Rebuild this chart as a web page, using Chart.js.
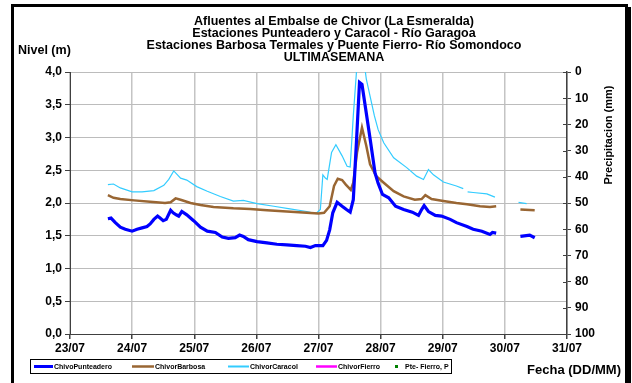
<!DOCTYPE html>
<html>
<head>
<meta charset="utf-8">
<script src="https://cdn.jsdelivr.net/npm/chart.js@4.4.1/dist/chart.umd.min.js"></script>
<style>
  html, body { margin: 0; padding: 0; background: #fff; }
  #wrap { position: relative; width: 632px; height: 383px; }
</style>
</head>
<body>
<div id="wrap"><canvas id="graph" width="632" height="383"></canvas></div>
<script>
const azul =     'rgb(0, 0, 255)'
const cafe =     'rgb(153, 102, 51)'
const celeste =  'rgb(51, 204, 255)'
const magenta =  'rgb(255, 0, 255)'
const verde =    'rgb(0, 128, 0)'
const fuente =   '"Liberation Sans", Arial, sans-serif'

// eje x: dias desde 23/07 00:00
const fechas = ['23/07', '24/07', '25/07', '26/07', '27/07', '28/07', '29/07', '30/07', '31/07']

const titulo = [
    'Afluentes al Embalse de Chivor (La Esmeralda)',
    'Estaciones Punteadero y Caracol - Río Garagoa',
    'Estaciones Barbosa Termales y Puente Fierro- Río Somondoco',
    'ULTIMASEMANA'
]

// ChivoPunteadero (null = sin dato)
const diasPunt = [0.61,0.66,0.73,0.81,0.89,1.00,1.08,1.16,1.24,1.29,1.35,1.41,1.45,1.50,1.55,1.62,1.66,1.71,1.75,1.80,
    1.88,1.99,2.10,2.21,2.34,2.45,2.55,2.66,2.73,2.79,2.87,3.01,3.17,3.33,3.49,3.65,3.79,3.87,3.95,4.07,
    4.13,4.18,4.23,4.30,4.38,4.45,4.51,4.56,4.61,4.66,4.70,4.76,4.84,4.91,4.96,5.03,5.13,5.24,5.37,5.51,
    5.61,5.66,5.70,5.77,5.88,5.98,6.12,6.22,6.39,6.49,6.63,6.76,6.80,6.86,7.05,7.25,7.40,7.48]
const nivelPunt = [1.76,1.77,1.70,1.63,1.60,1.57,1.60,1.62,1.64,1.68,1.75,1.80,1.77,1.73,1.75,1.89,1.85,1.82,1.80,1.87,
    1.82,1.73,1.63,1.57,1.55,1.48,1.46,1.47,1.51,1.49,1.44,1.41,1.39,1.37,1.36,1.35,1.34,1.32,1.35,1.35,
    1.43,1.59,1.85,2.01,1.95,1.90,1.86,2.05,2.92,3.84,3.81,3.43,2.92,2.46,2.30,2.13,2.08,1.95,1.90,1.86,
    1.81,1.90,1.96,1.87,1.81,1.80,1.75,1.70,1.64,1.60,1.57,1.52,1.55,1.54,null,1.49,1.51,1.47]

// ChivorBarbosa
const diasBarb = [0.61,0.70,0.81,1.03,1.29,1.53,1.62,1.70,1.78,1.94,2.10,2.31,2.63,2.90,3.17,3.49,3.81,4.00,4.09,4.18,
    4.25,4.31,4.38,4.44,4.52,4.56,4.62,4.70,4.77,4.83,4.93,5.05,5.21,5.37,5.55,5.66,5.72,5.82,6.01,6.22,
    6.39,6.60,6.76,6.86,7.05,7.25,7.48]
const nivelBarb = [2.12,2.08,2.06,2.04,2.02,2.00,2.01,2.07,2.05,2.00,1.97,1.94,1.92,1.91,1.89,1.87,1.85,1.84,1.85,1.95,
    2.26,2.37,2.35,2.28,2.20,2.31,2.77,3.15,2.87,2.59,2.41,2.31,2.18,2.10,2.05,2.06,2.12,2.06,2.03,2.00,
    1.98,1.95,1.94,1.95,null,1.90,1.89]

// ChivorCaracol
const diasCar = [0.61,0.70,0.81,1.00,1.16,1.35,1.51,1.59,1.67,1.78,1.88,2.04,2.21,2.42,2.63,2.79,3.01,3.28,3.54,3.81,
    3.96,4.03,4.07,4.11,4.14,4.21,4.28,4.38,4.46,4.51,4.56,4.63,4.67,4.72,4.77,4.83,4.90,4.96,5.05,5.21,
    5.42,5.58,5.69,5.77,5.85,6.01,6.22,6.33,6.36,6.40,6.49,6.71,6.84,7.00,7.22,7.35]
const nivelCar = [2.28,2.29,2.23,2.17,2.17,2.19,2.27,2.36,2.49,2.38,2.35,2.25,2.18,2.10,2.03,2.04,1.99,1.95,1.91,1.87,
    1.84,1.90,2.43,2.38,2.36,2.77,2.89,2.72,2.56,2.55,3.33,4.25,4.08,4.25,3.89,3.63,3.33,3.12,2.92,2.69,
    2.54,2.41,2.36,2.51,2.43,2.32,2.26,2.22,null,2.17,2.16,2.14,2.09,null,2.01,1.99]

// ChivorFierro y precipitacion Pte-Fierro: sin datos en la semana
const diasFierro = []
const nivelFierro = []
const diasPrecip = []
const precipFierro = []

function serie(dias, valores) {
    return dias.map((d, i) => ({x: d, y: valores[i]}))
}

// posiciones de la leyenda (inicio de la muestra, inicio del texto)
const leyendaPos = [[34, 54], [132, 155], [228, 250], [316, 338], [396, 405]]

const marco = {
    id: 'marco',
    beforeDraw(chart) {
        const ctx = chart.ctx
        ctx.save()
        ctx.fillStyle = '#fff'
        ctx.fillRect(0, 0, chart.width, chart.height)
        ctx.restore()
    },
    afterDraw(chart) {
        const ctx = chart.ctx
        ctx.save()
        ctx.fillStyle = '#000'
        ctx.textBaseline = 'middle'

        //Titulo
        ctx.textAlign = 'center'
        ctx.font = 'bold 12.5px ' + fuente
        titulo.forEach((t, i) => ctx.fillText(t, 334, 22 + i * 11.7))

        //Nombres de ejes
        ctx.textAlign = 'left'
        ctx.font = 'bold 12.5px ' + fuente
        ctx.fillText('Nivel (m)', 18, 51)
        ctx.font = 'bold 13px ' + fuente
        ctx.textAlign = 'right'
        ctx.fillText('Fecha (DD/MM)', 621, 370)
        ctx.save()
        ctx.translate(609, 135)
        ctx.rotate(-Math.PI / 2)
        ctx.textAlign = 'center'
        ctx.font = 'bold 11px ' + fuente
        ctx.fillText('Precipitacion (mm)', 0, 0)
        ctx.restore()

        //Marcas del eje derecho cruzando el eje
        const y1 = chart.scales.y1
        ctx.strokeStyle = '#404040'
        ctx.lineWidth = 1
        y1.ticks.forEach(t => {
            const y = Math.round(y1.getPixelForValue(t.value)) + 0.5
            ctx.beginPath()
            ctx.moveTo(y1.left - 4, y)
            ctx.lineTo(y1.left, y)
            ctx.stroke()
        })

        //Leyenda
        ctx.strokeStyle = '#000'
        ctx.lineWidth = 1
        ctx.strokeRect(30.5, 359.5, 421, 14)
        ctx.font = 'bold 7px ' + fuente
        ctx.textAlign = 'left'
        chart.data.datasets.forEach((ds, i) => {
            const [xm, xt] = leyendaPos[i]
            if (ds.showLine === false) {
                ctx.fillStyle = ds.backgroundColor
                ctx.fillRect(xm - 1, 365, 3, 3)
            } else {
                ctx.strokeStyle = ds.borderColor
                ctx.lineWidth = Math.max(2, Math.min(ds.borderWidth, 3))
                ctx.beginPath()
                ctx.moveTo(xm, 366.5)
                ctx.lineTo(xt - 1, 366.5)
                ctx.stroke()
            }
            ctx.fillStyle = '#000'
            ctx.fillText(ds.label, xt, 367)
        })

        //Borde negro del cuadro
        ctx.fillStyle = '#000'
        ctx.fillRect(11, 4, 617, 3)
        ctx.fillRect(11, 4, 3, 379)
        ctx.fillRect(625, 7, 6, 376)
        ctx.restore()
    }
}

const ctx = document.getElementById('graph')
const myChart = new Chart(ctx, {
    type: 'line',
    data: {
        datasets: [
            {
                label: 'ChivoPunteadero',
                data: serie(diasPunt, nivelPunt),
                borderColor: azul,
                borderWidth: 3.2,
                pointRadius: 0,
                yAxisID: 'y'
            },
            {
                label: 'ChivorBarbosa',
                data: serie(diasBarb, nivelBarb),
                borderColor: cafe,
                borderWidth: 2.5,
                pointRadius: 0,
                yAxisID: 'y'
            },
            {
                label: 'ChivorCaracol',
                data: serie(diasCar, nivelCar),
                borderColor: celeste,
                borderWidth: 1.2,
                pointRadius: 0,
                yAxisID: 'y'
            },
            {
                label: 'ChivorFierro',
                data: serie(diasFierro, nivelFierro),
                borderColor: magenta,
                borderWidth: 2.5,
                pointRadius: 0,
                yAxisID: 'y'
            },
            {
                label: 'Pte- Fierro, P',
                data: serie(diasPrecip, precipFierro),
                borderColor: verde,
                backgroundColor: verde,
                showLine: false,
                pointStyle: 'rect',
                pointRadius: 1.5,
                yAxisID: 'y1'
            }
        ]
    },
    options: {
        responsive: false,
        animation: false,
        spanGaps: false,
        layout: {
            padding: {left: 10, right: 15, top: 72, bottom: 19}
        },
        plugins: {
            legend: {display: false},
            title: {display: false},
            tooltip: {enabled: false}
        },
        scales: {
            x: {
                type: 'linear',
                min: 0,
                max: 8,
                afterFit: (scale) => { scale.height = 30 },
                ticks: {
                    stepSize: 1,
                    color: '#000',
                    padding: 2,
                    font: {family: fuente, size: 12, weight: 'bold'},
                    callback: (v) => fechas[v]
                },
                grid: {
                    color: '#c4c4c4',
                    lineWidth: 1.5,
                    tickLength: 5,
                    tickColor: '#404040'
                },
                border: {color: '#404040', width: 1}
            },
            y: {
                position: 'left',
                min: 0,
                max: 4,
                afterFit: (scale) => { scale.width = 60 },
                ticks: {
                    stepSize: 0.25,
                    color: '#000',
                    padding: 3,
                    font: {family: fuente, size: 12, weight: 'bold'},
                    callback: (v) => (v % 0.5 === 0) ? v.toFixed(1).replace('.', ',') : ''
                },
                grid: {
                    color: (c) => (c.tick && c.tick.value % 0.5 === 0) ? '#bcbcbc' : '#d8d8d8',
                    lineWidth: (c) => (c.tick && c.tick.value % 0.5 === 0) ? 1 : 2,
                    tickLength: 5,
                    tickColor: (c) => (c.tick && c.tick.value % 0.5 === 0) ? '#404040' : 'rgba(0,0,0,0)'
                },
                border: {color: '#404040', width: 1}
            },
            y1: {
                position: 'right',
                min: 0,
                max: 100,
                reverse: true,
                afterFit: (scale) => { scale.width = 50 },
                ticks: {
                    stepSize: 10,
                    color: '#000',
                    padding: 4,
                    font: {family: fuente, size: 12, weight: 'bold'}
                },
                grid: {
                    drawOnChartArea: false,
                    tickLength: 4,
                    tickColor: '#404040'
                },
                border: {color: '#404040', width: 1.5}
            }
        }
    },
    plugins: [marco]
})
</script>
</body>
</html>
